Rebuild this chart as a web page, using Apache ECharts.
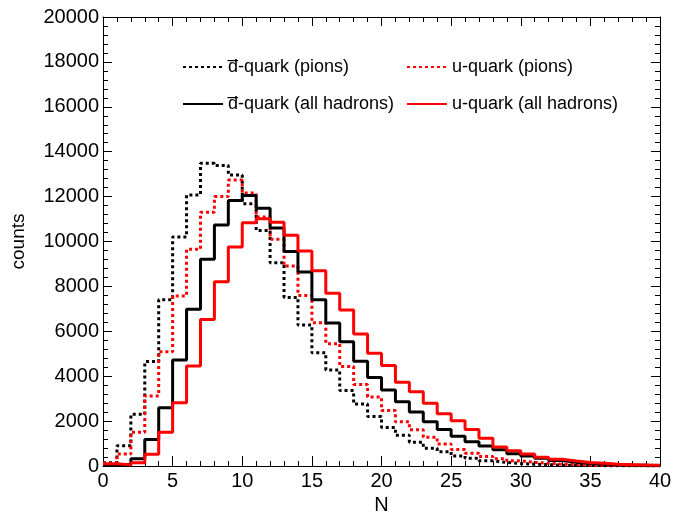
<!DOCTYPE html>
<html>
<head>
<meta charset="utf-8">
<script src="https://cdn.jsdelivr.net/npm/echarts@6/dist/echarts.min.js"></script>
<style>html,body{margin:0;padding:0;background:#fff}#c{width:673px;height:514px}</style>
</head>
<body>
<div id="c"></div>
<script>
// Bin lower edges N = 0..39, bin width 1
const binEdges = Array.from({length: 41}, (_, i) => i);
const dbarPions = [150,900,2300,4650,7400,10200,12070,13480,13390,12960,11680,10490,9050,7510,6280,5040,4280,3360,2760,2200,1720,1370,1060,790,640,450,340,230,160,110,80,60,40,30,20,15,10,8,5,4];
const uPions    = [120,530,1500,3120,5090,7570,9650,11300,12000,12740,12160,11090,10100,8910,7600,6380,5450,4430,3630,3070,2470,1970,1620,1280,980,740,570,420,320,230,160,120,80,60,40,30,20,15,10,8];
const dbarAll   = [30,80,320,1180,2600,4720,6980,9210,10730,11830,12050,11480,10600,9550,8640,7400,6370,5540,4670,3940,3380,2860,2400,1970,1630,1320,1080,890,720,550,450,340,240,170,120,90,60,40,30,20];
const uAll      = [100,50,140,520,1500,2820,4450,6530,8210,9750,10830,11010,10860,10280,9580,8700,7690,6950,5880,5020,4480,3730,3310,2800,2330,2020,1630,1240,850,680,530,390,300,220,160,120,80,60,40,30];
const seriesNames = ['d\u0305-quark (pions)', 'u-quark (pions)', 'd\u0305-quark (all hadrons)', 'u-quark (all hadrons)'];
const xTicks = [0,5,10,15,20,25,30,35,40];
const yTicks = [0,2000,4000,6000,8000,10000,12000,14000,16000,18000,20000];

function stepData(vals) {
  const d = vals.map((v, i) => [binEdges[i], v]);
  d.push([binEdges[vals.length], vals[vals.length - 1]]);
  return d;
}
const FONT = 'Liberation Sans, Arial, sans-serif';
const chart = echarts.init(document.getElementById('c'), null, {renderer: 'canvas'});

function axisBase(major) {
  return {
    axisLine: {show: true, onZero: false, lineStyle: {color: '#000', width: 1}},
    splitLine: {show: false},
    axisTick: {show: true, inside: true, length: major, lineStyle: {color: '#000', width: 1}},
    minorTick: {show: true, splitNumber: 5, length: 5, lineStyle: {color: '#000', width: 1}}
  };
}
function mkSeries(name, vals, color, dashed) {
  return {
    name, type: 'line', step: 'end', data: stepData(vals), symbol: 'none',
    xAxisIndex: 0, yAxisIndex: 0,
    lineStyle: {color, width: 3, type: dashed ? [3, 3] : 'solid'},
    itemStyle: {color},
    animation: false
  };
}
function mkLegend(name, left, top) {
  return {
    data: [name], left, top, itemWidth: 40, itemHeight: 12, itemGap: 0,
    itemStyle: {color: 'rgba(0,0,0,0)', borderWidth: 0, opacity: 0},
    textStyle: {fontFamily: FONT, fontSize: 18, color: '#000'},
    selectedMode: false, padding: 0
  };
}
chart.setOption({
  animation: false,
  backgroundColor: '#fff',
  grid: {left: 103, right: 13, top: 17, bottom: 48, containLabel: false, outerBoundsMode: 'none'},
  legend: [
    mkLegend(seriesNames[0], 182, 58),
    mkLegend(seriesNames[1], 406, 58),
    mkLegend(seriesNames[2], 182, 95),
    mkLegend(seriesNames[3], 406, 95)
  ],
  xAxis: [
    Object.assign(axisBase(10), {
      type: 'value', min: xTicks[0], max: xTicks[xTicks.length - 1], interval: 5,
      position: 'bottom',
      name: 'N', nameLocation: 'middle', nameGap: 27,
      nameTextStyle: {fontFamily: FONT, fontSize: 20, color: '#000'},
      axisLabel: {fontFamily: FONT, fontSize: 20, color: '#000', margin: 5, formatter: v => String(v)}
    }),
    Object.assign(axisBase(9), {
      type: 'value', min: xTicks[0], max: xTicks[xTicks.length - 1], interval: 5,
      position: 'top',
      axisLabel: {show: false}
    })
  ],
  yAxis: [
    Object.assign(axisBase(9), {
      type: 'value', min: yTicks[0], max: yTicks[yTicks.length - 1], interval: 2000,
      position: 'left',
      name: 'counts', nameLocation: 'middle', nameGap: 75, nameRotate: 90,
      nameTextStyle: {fontFamily: FONT, fontSize: 19, color: '#000'},
      axisLabel: {fontFamily: FONT, fontSize: 20, color: '#000', margin: 4, formatter: v => String(v)}
    }),
    Object.assign(axisBase(9), {
      type: 'value', min: yTicks[0], max: yTicks[yTicks.length - 1], interval: 2000,
      position: 'right',
      axisLabel: {show: false}
    })
  ],
  series: [
    mkSeries(seriesNames[0], dbarPions, '#000000', true),
    mkSeries(seriesNames[1], uPions, '#ff0000', true),
    mkSeries(seriesNames[2], dbarAll, '#000000', false),
    mkSeries(seriesNames[3], uAll, '#ff0000', false)
  ]
});
</script>
</body>
</html>
